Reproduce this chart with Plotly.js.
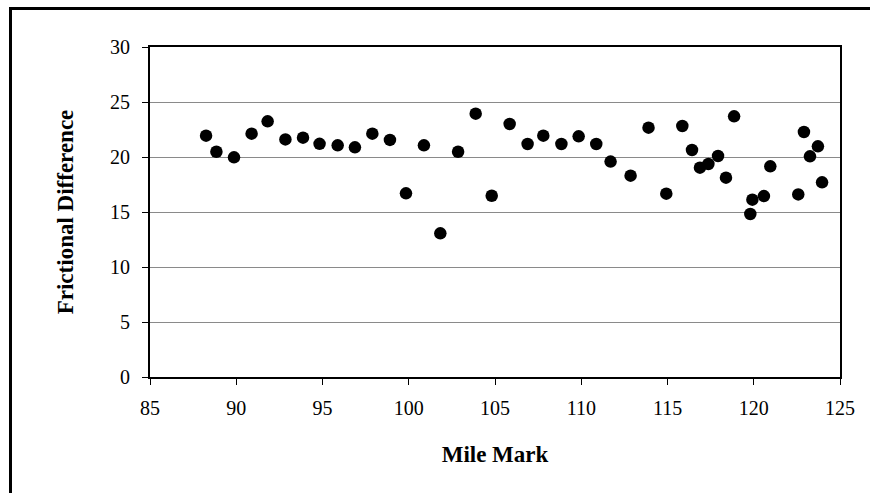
<!DOCTYPE html>
<html>
<head>
<meta charset="utf-8">
<script src="https://cdn.plot.ly/plotly-3.0.1.min.js"></script>
<style>
  html, body { margin: 0; padding: 0; background: #fff; }
  #wrap { position: relative; width: 870px; height: 493px; }
  #chart { position: absolute; left: 0; top: 0; width: 870px; height: 493px; }
  #frame { position: absolute; left: 9px; top: 7px; width: 861px; height: 486px;
           border-left: 3px solid #000; border-top: 3px solid #000; pointer-events: none; }
</style>
</head>
<body>
<div id="wrap">
  <div id="chart"></div>
  <div id="frame"></div>
</div>
<script>
const mileMark = [88.25, 88.85, 89.87, 90.89, 91.82, 92.85, 93.87, 94.83, 95.88, 96.88,
  97.89, 98.91, 99.84, 100.88, 101.83, 102.86, 103.88, 104.81, 105.85, 106.89,
  107.8, 108.85, 109.85, 110.87, 111.7, 112.86, 113.9, 114.93, 115.86, 116.42,
  116.88, 117.37, 117.93, 118.39, 118.86, 119.8, 119.92, 120.59, 120.96, 122.58,
  122.91, 123.26, 123.72, 123.96];
const frictionalDiff = [21.94, 20.48, 19.97, 22.12, 23.24, 21.6, 21.76, 21.2, 21.06, 20.88,
  22.12, 21.55, 16.7, 21.06, 13.06, 20.48, 23.94, 16.48, 23.0, 21.18,
  21.94, 21.18, 21.88, 21.18, 19.58, 18.3, 22.67, 16.67, 22.82, 20.64,
  19.03, 19.36, 20.09, 18.12, 23.7, 14.82, 16.12, 16.45, 19.15, 16.6,
  22.27, 20.06, 20.97, 17.7];
const xTicks = [85, 90, 95, 100, 105, 110, 115, 120, 125];
const yTicks = [0, 5, 10, 15, 20, 25, 30];

const font = "'Liberation Serif', 'Times New Roman', serif";

Plotly.newPlot('chart', [{
  type: 'scatter',
  mode: 'markers',
  x: mileMark,
  y: frictionalDiff,
  marker: { color: '#000', size: 12.5 },
  hoverinfo: 'x+y'
}], {
  width: 870, height: 493,
  margin: { l: 150, r: 30, t: 47, b: 116 },
  paper_bgcolor: '#fff', plot_bgcolor: '#fff',
  showlegend: false,
  font: { family: font, size: 20, color: '#000' },
  xaxis: {
    range: [85, 125], tickvals: xTicks, ticktext: xTicks.map(String),
    ticks: 'outside', ticklen: 6, tickcolor: '#000', tickwidth: 1,
    ticklabelstandoff: 6,
    showline: true, linecolor: '#000', linewidth: 2, mirror: true,
    showgrid: false, zeroline: false,
    tickfont: { family: font, size: 20 },
    title: { text: '<b>Mile Mark</b>', font: { family: font, size: 23 }, standoff: 28 }
  },
  yaxis: {
    range: [0, 30], tickvals: yTicks, ticktext: yTicks.map(String),
    ticks: 'outside', ticklen: 6, tickcolor: '#000', tickwidth: 1,
    ticklabelstandoff: 8,
    showline: true, linecolor: '#000', linewidth: 2, mirror: true,
    showgrid: true, gridcolor: '#8a8a8a', gridwidth: 1, zeroline: false,
    tickfont: { family: font, size: 20 },
    title: { text: '<b>Frictional Difference</b>', font: { family: font, size: 23 }, standoff: 30 }
  }
}, { displayModeBar: false, staticPlot: true });
</script>
</body>
</html>
